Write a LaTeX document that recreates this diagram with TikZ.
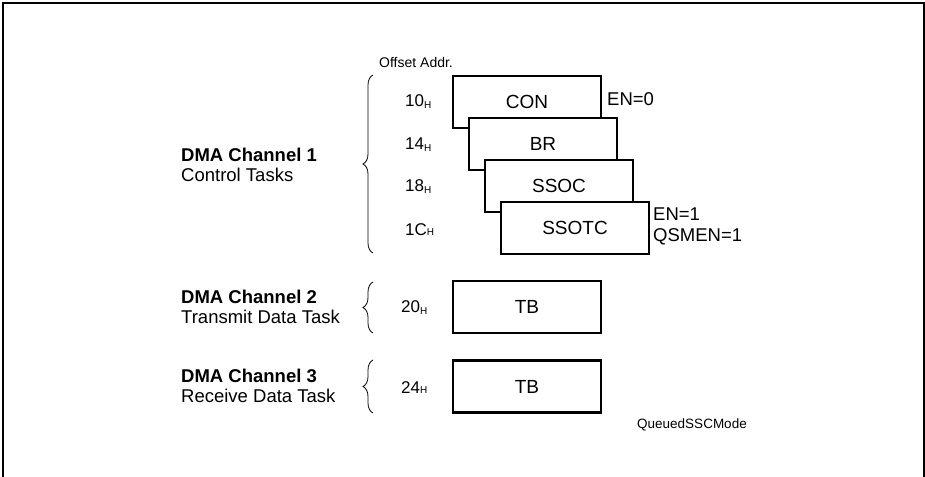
\documentclass[tikz,border=0pt]{standalone}
\usepackage{fontspec}
\setmainfont{Liberation Sans}
\usetikzlibrary{positioning, decorations.pathreplacing}

% index H after an offset address
\newcommand{\hlow}{\raisebox{-2pt}{\fontsize{10}{10}\selectfont H}}
\newcommand{\hbase}{{\fontsize{10}{10}\selectfont H}}

\begin{document}
\begin{tikzpicture}[
		x=1pt, y=-1pt,
		regbox/.style={draw, line width=2.7pt, fill=white, minimum width=148pt, minimum height=52pt, inner sep=0pt, font=\fontsize{19}{19}\selectfont},
		addr/.style={anchor=west, inner sep=0pt, font=\fontsize{17}{17}\selectfont},
		chan/.style={anchor=west, align=left, inner sep=0pt, font=\fontsize{18.5}{20}\selectfont},
		flag/.style={anchor=west, align=left, inner sep=0pt, font=\fontsize{18.5}{21}\selectfont},
		grp/.style={decorate, decoration={brace, amplitude=10pt}, line width=0.8pt}
		]
		\useasboundingbox (0,0) rectangle (925,476);
		% frame (bottom edge lies below the page)
		\draw[line width=2pt] (2.5,490) -- (2.5,3) -- (924,3) -- (924,490);
		
		% Channel 1: control tasks, stacked registers
		\node[anchor=west, inner sep=0pt, font=\fontsize{14}{14}\selectfont] (offs) at (379,62) {Offset Addr.};
		\node[regbox] (con) at (527,102) {CON};
		\node[regbox] (br) at (543,144) {BR};
		\node[regbox] (ssoc) at (559,186) {SSOC};
		\node[regbox] (ssotc) at (575,228) {SSOTC};
		\node[addr] (a10) at (405,102) {10\hlow};
		\node[addr] (a14) at (405,145) {14\hlow};
		\node[addr] (a18) at (405,187) {18\hlow};
		\node[addr] (a1c) at (405,230) {1C\hbase};
		\node[flag] (en0) at (607,99) {EN=0};
		\node[flag] (en1) at (653,226) {EN=1\\QSMEN=1};
		\node[chan] (ch1) at (181,165) {\textbf{DMA Channel 1}\\Control Tasks};
		\coordinate (g1b) at (373,253);
		\coordinate (g1t) at (373,75);
		\draw[grp] (g1b) -- (g1t);
		
		% Channel 2: transmit
		\node[regbox] (tbtx) at (527,307) {TB};
		\node[addr] (a20) at (401,308) {20\hlow};
		\node[chan] (ch2) at (181,307) {\textbf{DMA Channel 2}\\Transmit Data Task};
		\coordinate (g2b) at (373,333);
		\coordinate (g2t) at (373,282);
		\draw[grp] (g2b) -- (g2t);
		
		% Channel 3: receive
		\node[regbox] (tbrx) at (527,386.5) {TB};
		\node[addr] (a24) at (401,388) {24\hbase};
		\node[chan] (ch3) at (181,386) {\textbf{DMA Channel 3}\\Receive Data Task};
		\coordinate (g3b) at (373,413);
		\coordinate (g3t) at (373,360);
		\draw[grp] (g3b) -- (g3t);
		
		\node[anchor=west, inner sep=0pt, font=\fontsize{13.5}{13.5}\selectfont] (mode) at (637,425) {QueuedSSCMode};
	\end{tikzpicture}
\end{document}
